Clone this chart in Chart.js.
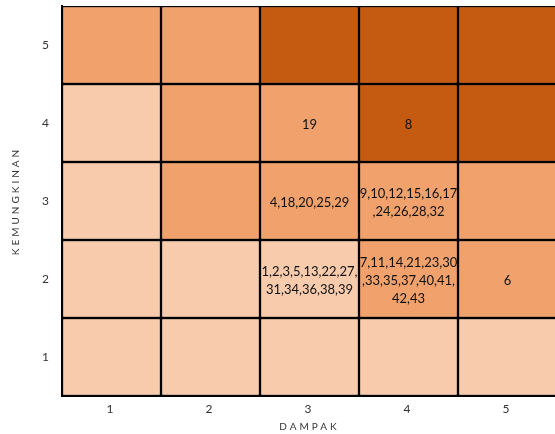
<!DOCTYPE html>
<html>
<head>
<meta charset="utf-8">
<script src="https://cdn.jsdelivr.net/npm/chart.js@4/dist/chart.umd.min.js"></script>
<style>
  html, body { margin: 0; padding: 0; background: #fff; overflow: hidden; }
  #wrap { width: 557px; height: 434px; }
</style>
</head>
<body>
<div id="wrap"><canvas id="matrix"></canvas></div>
<script>
const dampak = ['1', '2', '3', '4', '5'];
const kemungkinan = [1, 2, 3, 4, 5];

// risk level per cell, rows = kemungkinan 1..5, cols = dampak 1..5
// 0 = rendah, 1 = sedang, 2 = tinggi
const level1 = [0, 0, 0, 0, 0];
const level2 = [0, 0, 0, 1, 1];
const level3 = [0, 1, 1, 1, 1];
const level4 = [0, 1, 1, 2, 2];
const level5 = [1, 1, 2, 2, 2];
const levels = [level1, level2, level3, level4, level5];

// risk numbers written in the cells (lines per cell)
const risiko1 = [[], [], [], [], []];
const risiko2 = [[], [], ['1,2,3,5,13,22,27,', '31,34,36,38,39'], ['7,11,14,21,23,30', ',33,35,37,40,41,', '42,43'], ['6']];
const risiko3 = [[], [], ['4,18,20,25,29'], ['9,10,12,15,16,17', ',24,26,28,32'], []];
const risiko4 = [[], [], ['19'], ['8'], []];
const risiko5 = [[], [], [], [], []];
const risiko = [risiko1, risiko2, risiko3, risiko4, risiko5];

const levelColors = ['#F7CBAC', '#F1A16C', '#C55A11'];

const datasets = kemungkinan.map((k, i) => ({
    label: 'Kemungkinan ' + k,
    data: dampak.map(() => 1),
    backgroundColor: levels[i].map(l => levelColors[l]),
    borderColor: '#000',
    borderWidth: 1.5,
    borderSkipped: false,
    barPercentage: 1,
    categoryPercentage: 1
}));

const cellText = {
    id: 'cellText',
    beforeDraw(chart) {
        chart.ctx.letterSpacing = '3px';
    },
    afterDatasetsDraw(chart) {
        const ctx = chart.ctx;
        ctx.save();
        ctx.letterSpacing = '0px';
        ctx.font = '13px Lato';
        ctx.fillStyle = '#111';
        ctx.textAlign = 'center';
        ctx.textBaseline = 'middle';
        chart.data.datasets.forEach((ds, i) => {
            const meta = chart.getDatasetMeta(i);
            meta.data.forEach((bar, j) => {
                const lines = risiko[i][j];
                if (!lines.length) return;
                const cy = (bar.y + bar.base) / 2 + 2;
                const lh = 18;
                lines.forEach((t, n) => {
                    ctx.fillText(t, bar.x, cy + (n - (lines.length - 1) / 2) * lh);
                });
            });
        });
        ctx.restore();
    },
    afterDraw(chart) {
        chart.ctx.letterSpacing = '0px';
    }
};

new Chart(document.getElementById('matrix'), {
    type: 'bar',
    data: { labels: dampak, datasets: datasets },
    options: {
        responsive: true,
        maintainAspectRatio: false,
        animation: false,
        layout: { padding: { top: 6, left: 4, right: 0, bottom: 0 } },
        plugins: { legend: { display: false }, tooltip: { enabled: false } },
        scales: {
            x: {
                stacked: true,
                afterFit(axis) {
                    axis.height = 38;
                    axis.paddingLeft = 0;
                    axis.paddingRight = 0;
                },
                grid: { display: false, drawTicks: false },
                border: { display: true, color: '#000', width: 2 },
                ticks: { color: '#333', font: { family: 'Lato', size: 12 }, padding: 6 },
                title: { display: true, text: 'DAMPAK', color: '#333', font: { family: 'Lato', size: 10 }, padding: { top: 0, bottom: 1 } }
            },
            y: {
                stacked: true,
                min: 0,
                max: 5,
                afterBuildTicks(axis) {
                    axis.ticks = kemungkinan.map(k => ({ value: k - 0.5 }));
                },
                afterFit(axis) {
                    axis.width = 58;
                    axis.paddingTop = 0;
                    axis.paddingBottom = 0;
                },
                grid: { display: false, drawTicks: false },
                border: { display: true, color: '#000', width: 2 },
                ticks: { color: '#333', font: { family: 'Lato', size: 12 }, padding: 10, callback: v => v + 0.5 },
                title: { display: true, text: 'KEMUNGKINAN', color: '#333', font: { family: 'Lato', size: 10 }, padding: { top: 6, bottom: 6 } }
            }
        }
    },
    plugins: [cellText]
});
</script>
</body>
</html>
